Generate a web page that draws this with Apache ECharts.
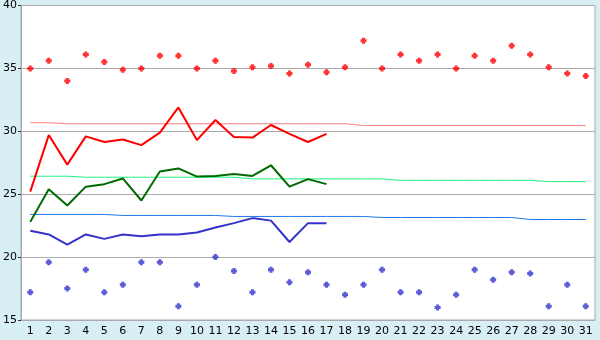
<!DOCTYPE html>
<html><head><meta charset="utf-8">
<script src="https://cdn.jsdelivr.net/npm/echarts@6/dist/echarts.min.js"></script>
<style>html,body{margin:0;padding:0;background:#d9eff6;}#c{width:600px;height:340px;}</style>
</head><body><div id="c"></div>
<script>
var days = ['1','2','3','4','5','6','7','8','9','10','11','12','13','14','15','16','17','18','19','20','21','22','23','24','25','26','27','28','29','30','31'];
var yTicks = [15, 20, 25, 30, 35, 40];
var highDots = [35.0,35.6,34.0,36.1,35.5,34.9,35.0,36.0,36.0,35.0,35.6,34.8,35.1,35.2,34.6,35.3,34.7,35.1,37.2,35.0,36.1,35.6,36.1,35.0,36.0,35.6,36.8,36.1,35.1,34.6,34.4];
var lowDots = [17.2,19.6,17.5,19.0,17.2,17.8,19.6,19.6,16.1,17.8,20.0,18.9,17.2,19.0,18.0,18.8,17.8,17.0,17.8,19.0,17.2,17.2,16.0,17.0,19.0,18.2,18.8,18.7,16.1,17.8,16.1];
var redLine = [25.2,29.7,27.35,29.6,29.15,29.35,28.9,29.9,31.9,29.3,30.9,29.55,29.5,30.5,29.8,29.15,29.8];
var greenLine = [22.8,25.4,24.1,25.6,25.8,26.25,24.5,26.8,27.05,26.4,26.45,26.6,26.45,27.3,25.6,26.2,25.8];
var blueLine = [22.1,21.8,21.0,21.8,21.45,21.8,21.65,21.8,21.8,21.95,22.35,22.7,23.1,22.9,21.2,22.7,22.7];
var redNorm = [30.68,30.68,30.6,30.6,30.6,30.6,30.6,30.6,30.6,30.6,30.6,30.6,30.6,30.6,30.6,30.6,30.6,30.6,30.46,30.46,30.46,30.46,30.46,30.46,30.46,30.46,30.46,30.46,30.46,30.46,30.46];
var greenNorm = [26.43,26.43,26.43,26.35,26.35,26.35,26.35,26.35,26.35,26.35,26.35,26.35,26.22,26.22,26.22,26.22,26.22,26.22,26.22,26.22,26.1,26.1,26.1,26.1,26.1,26.1,26.1,26.1,26.0,26.0,26.0];
var blueNorm = [23.39,23.39,23.39,23.39,23.39,23.31,23.31,23.31,23.31,23.31,23.31,23.23,23.23,23.23,23.23,23.23,23.23,23.23,23.23,23.15,23.15,23.15,23.15,23.15,23.15,23.15,23.15,22.99,22.99,22.99,22.99];

var plus = 'path://M1.5,0H4.5V1.5H6V4.5H4.5V6H1.5V4.5H0V1.5H1.5Z';
var chart = echarts.init(document.getElementById('c'), null, {renderer:'canvas'});
function line(data, color, w, z) {
  return {type:'line', data:data, showSymbol:false, symbol:'none', lineStyle:{color:color, width:w}, itemStyle:{color:color}, z:z, animation:false};
}
chart.setOption({
  animation:false,
  backgroundColor:'#d9eff6',
  grid:{left:20, right:5, top:5, bottom:20, show:true, backgroundColor:'#ffffff', borderColor:'#aaaaaa', borderWidth:1},
  xAxis:{type:'category', data:days, boundaryGap:true,
    axisLine:{lineStyle:{color:'#aaaaaa'}},
    axisTick:{alignWithLabel:true, length:4, lineStyle:{color:'#333333'}},
    axisLabel:{color:'#000', fontFamily:'DejaVu Sans', fontSize:11, margin:6, interval:0},
    splitLine:{show:false}},
  yAxis:{type:'value', min:yTicks[0], max:yTicks[yTicks.length-1], interval:5,
    axisLine:{show:true, lineStyle:{color:'#aaaaaa'}},
    axisTick:{show:true, length:3, lineStyle:{color:'#333333'}},
    axisLabel:{color:'#000', fontFamily:'DejaVu Sans', fontSize:11, margin:4},
    splitLine:{lineStyle:{color:'#aaaaaa'}}},
  series:[
    line(redNorm, '#ff8080', 1, 2),
    line(greenNorm, '#20f080', 1, 2),
    line(blueNorm, '#1e7ae6', 1, 2),
    line(redLine, '#ff0000', 2, 3),
    line(greenLine, '#006a00', 2, 3),
    line(blueLine, '#3333cc', 2, 3),
    {type:'scatter', data:highDots, symbol:plus, symbolSize:6, itemStyle:{color:'#ff0000'}, z:4},
    {type:'scatter', data:lowDots, symbol:plus, symbolSize:6, itemStyle:{color:'#3333cc'}, z:4}
  ]
});
</script></body></html>
